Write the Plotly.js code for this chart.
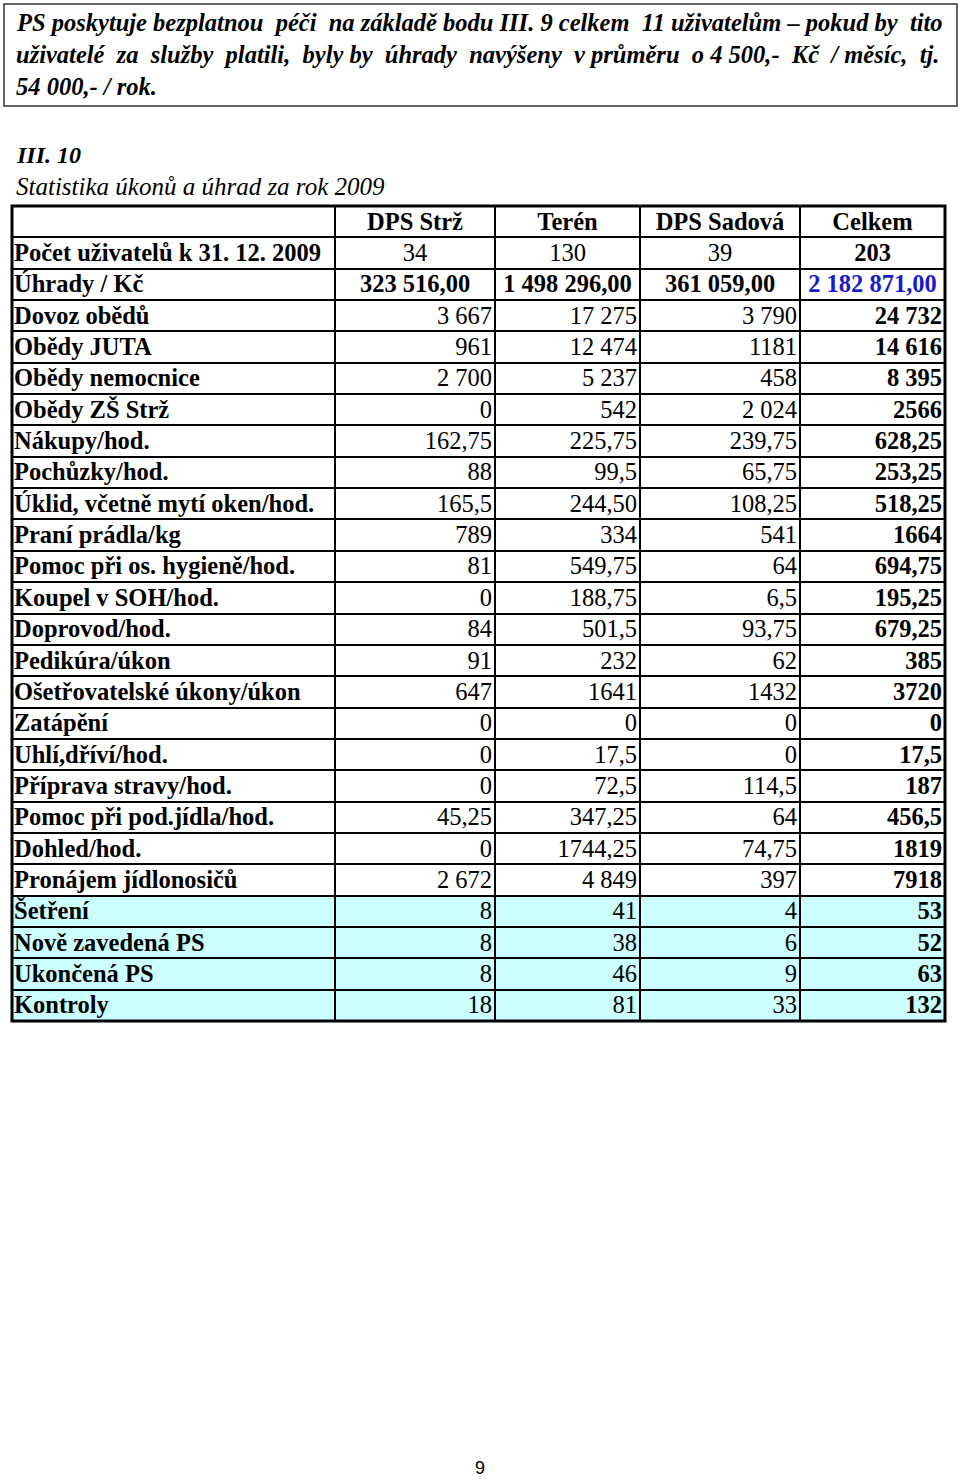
<!DOCTYPE html>
<html>
<head>
<meta charset="utf-8">
<script src="https://cdn.plot.ly/plotly-3.0.1.min.js"></script>
<style>
    body { margin: 0; background: #fff; }
    #chart { width: 960px; height: 1479px; }
</style>
</head>
<body>
<div id="chart"></div>
<script>
// Table data
const columns = ['DPS Strž', 'Terén', 'DPS Sadová', 'Celkem'];

const rowLabels = [
    'Počet uživatelů k 31. 12. 2009', 'Úhrady / Kč', 'Dovoz obědů', 'Obědy JUTA',
    'Obědy nemocnice', 'Obědy ZŠ Strž', 'Nákupy/hod.', 'Pochůzky/hod.',
    'Úklid, včetně mytí oken/hod.', 'Praní prádla/kg', 'Pomoc při os. hygieně/hod.',
    'Koupel v SOH/hod.', 'Doprovod/hod.', 'Pedikúra/úkon', 'Ošetřovatelské úkony/úkon',
    'Zatápění', 'Uhlí,dříví/hod.', 'Příprava stravy/hod.', 'Pomoc při pod.jídla/hod.',
    'Dohled/hod.', 'Pronájem jídlonosičů', 'Šetření', 'Nově zavedená PS',
    'Ukončená PS', 'Kontroly'
];

const dpsStrz = ['34', '323 516,00', '3 667', '961', '2 700', '0', '162,75', '88',
    '165,5', '789', '81', '0', '84', '91', '647', '0', '0', '0', '45,25', '0',
    '2 672', '8', '8', '8', '18'];
const teren = ['130', '1 498 296,00', '17 275', '12 474', '5 237', '542', '225,75', '99,5',
    '244,50', '334', '549,75', '188,75', '501,5', '232', '1641', '0', '17,5', '72,5',
    '347,25', '1744,25', '4 849', '41', '38', '46', '81'];
const dpsSadova = ['39', '361 059,00', '3 790', '1181', '458', '2 024', '239,75', '65,75',
    '108,25', '541', '64', '6,5', '93,75', '62', '1432', '0', '0', '114,5', '64',
    '74,75', '397', '4', '6', '9', '33'];
const celkem = ['203', '2 182 871,00', '24 732', '14 616', '8 395', '2566', '628,25', '253,25',
    '518,25', '1664', '694,75', '195,25', '679,25', '385', '3720', '0', '17,5', '187',
    '456,5', '1819', '7918', '53', '52', '63', '132'];

// the first two lines are justified in the original, so the gaps are widened by hand
const introLines = [
    'PS poskytuje bezplatnou  péči  na základě bodu III. 9 celkem  11 uživatelům – pokud by  tito',
    'uživatelé  za  služby  platili,  byly by  úhrady  navýšeny  v průměru  o 4 500,-  Kč  / měsíc,  tj.',
    '54 000,- / rok.'
];

// Layout of the grid (pixels)
const W = 960, H = 1479;
const colWidths = [323, 160, 145, 160, 145];
const tableLeft = 12, tableTop = 206, tableBottom = 1021;
const serif = 'Liberation Serif, Times New Roman, serif';
const fontSize = 24.5;
const textShift = 0.06;   // baseline nudge, in row units

const valueCols = [dpsStrz, teren, dpsSadova, celkem];
const nRows = rowLabels.length + 1;           // + header row
const cyanRows = ['Šetření', 'Nově zavedená PS', 'Ukončená PS', 'Kontroly'];

const colEdges = [0];
colWidths.forEach(w => colEdges.push(colEdges[colEdges.length - 1] + w));
const rowEdges = Array.from({ length: nRows + 1 }, (_, i) => i);

// cell fills: 0 = white, 1 = light cyan
const fillZ = [];
for (let r = 0; r < nRows; r++) {
    const cyan = r > 0 && cyanRows.includes(rowLabels[r - 1]) ? 1 : 0;
    fillZ.push(colWidths.map(() => cyan));
}

// the gaps between heatmap bricks let the black plot background show as grid lines
const gridTrace = {
    type: 'heatmap',
    x: colEdges,
    y: rowEdges,
    z: fillZ,
    zmin: 0, zmax: 1,
    colorscale: [[0, '#ffffff'], [1, '#ccffff']],
    showscale: false,
    xgap: 2, ygap: 2,
    hoverinfo: 'skip'
};

// row label column
const labelTrace = {
    type: 'scatter',
    mode: 'text',
    x: rowLabels.map(() => colEdges[0] + 2),
    y: rowLabels.map((_, i) => i + 1.5 + textShift),
    text: rowLabels.map(t => '<b>' + t + '</b>'),
    textposition: 'middle right',
    textfont: { family: serif, size: fontSize, color: '#000' },
    cliponaxis: false,
    hoverinfo: 'skip'
};

// centred cells (header, first two rows) and right aligned cells (the rest)
const centre = { x: [], y: [], text: [], color: [] };
const right = { x: [], y: [], text: [], color: [] };

columns.forEach((name, c) => {
    const mid = (colEdges[c + 1] + colEdges[c + 2]) / 2;
    centre.x.push(mid); centre.y.push(0.5 + textShift);
    centre.text.push('<b>' + name + '</b>'); centre.color.push('#000');

    valueCols[c].forEach((v, r) => {
        const bold = r === 1 || c === columns.length - 1;
        const txt = bold ? '<b>' + v + '</b>' : v;
        const color = (r === 1 && c === columns.length - 1) ? '#1a1acc' : '#000';
        if (r < 2) {
            centre.x.push(mid); centre.y.push(r + 1.5 + textShift);
            centre.text.push(txt); centre.color.push(color);
        } else {
            right.x.push(colEdges[c + 2] - 3); right.y.push(r + 1.5 + textShift);
            right.text.push(txt); right.color.push(color);
        }
    });
});

const centreTrace = {
    type: 'scatter', mode: 'text',
    x: centre.x, y: centre.y, text: centre.text,
    textposition: 'middle center',
    textfont: { family: serif, size: fontSize, color: centre.color },
    cliponaxis: false, hoverinfo: 'skip'
};

const rightTrace = {
    type: 'scatter', mode: 'text',
    x: right.x, y: right.y, text: right.text,
    textposition: 'middle left',
    textfont: { family: serif, size: fontSize, color: right.color },
    cliponaxis: false, hoverinfo: 'skip'
};

const px = x => x / W;
const py = y => 1 - y / H;

const annotations = [];
const introY = [22, 54, 86];
introLines.forEach((line, i) => {
    annotations.push({
        xref: 'paper', yref: 'paper', x: px(14), y: py(introY[i]),
        xanchor: 'left', yanchor: 'middle', showarrow: false,
        text: '<b><i>' + line + '</i></b>',
        font: { family: serif, size: 24.5, color: '#000' }
    });
});
annotations.push({
    xref: 'paper', yref: 'paper', x: px(14), y: py(155),
    xanchor: 'left', yanchor: 'middle', showarrow: false,
    text: '<b><i>III. 10</i></b>',
    font: { family: serif, size: 24, color: '#000' }
});
annotations.push({
    xref: 'paper', yref: 'paper', x: px(14), y: py(187),
    xanchor: 'left', yanchor: 'middle', showarrow: false,
    text: '<i>Statistika úkonů a úhrad za rok 2009</i>',
    font: { family: serif, size: 25, color: '#000' }
});
annotations.push({
    xref: 'paper', yref: 'paper', x: 0.5, y: py(1468),
    xanchor: 'center', yanchor: 'middle', showarrow: false,
    text: '9',
    font: { family: 'Liberation Sans, Arial, sans-serif', size: 18, color: '#000' }
});

const layout = {
    width: W, height: H,
    margin: { l: 0, r: 0, t: 0, b: 0 },
    paper_bgcolor: '#fff',
    plot_bgcolor: '#000',
    showlegend: false,
    xaxis: {
        domain: [px(tableLeft), px(tableLeft + colEdges[colEdges.length - 1])],
        range: [0, colEdges[colEdges.length - 1]],
        visible: false, fixedrange: true
    },
    yaxis: {
        domain: [py(tableBottom), py(tableTop)],
        range: [nRows, 0],
        visible: false, fixedrange: true
    },
    shapes: [
        // intro frame
        { type: 'rect', xref: 'paper', yref: 'paper',
          x0: px(4), x1: px(957), y0: py(106), y1: py(4),
          line: { color: '#333', width: 1.5 } },
        // heavy outer border of the table
        { type: 'rect', xref: 'x domain', yref: 'y domain',
          x0: 0, x1: 1, y0: 0, y1: 1,
          line: { color: '#000', width: 3 } }
    ],
    annotations: annotations
};

Plotly.newPlot('chart', [gridTrace, labelTrace, centreTrace, rightTrace], layout,
    { staticPlot: true, displayModeBar: false });
</script>
</body>
</html>
